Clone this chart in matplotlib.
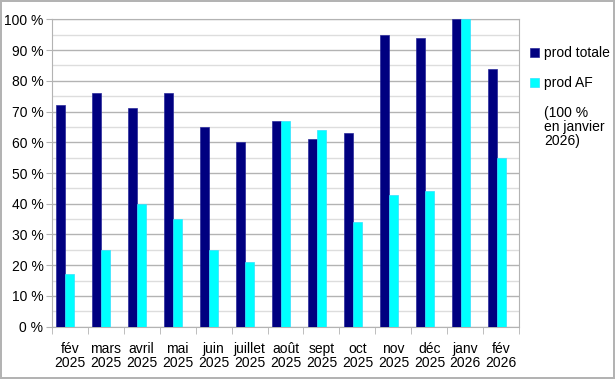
import numpy as np
import matplotlib
matplotlib.use("Agg")
import matplotlib.pyplot as plt
from matplotlib.ticker import MultipleLocator, FuncFormatter

plt.rcParams['font.family'] = ['Liberation Sans', 'DejaVu Sans']

months = ['fév\n2025', 'mars\n2025', 'avril\n2025', 'mai\n2025', 'juin\n2025',
          'juillet\n2025', 'août\n2025', 'sept\n2025', 'oct\n2025', 'nov\n2025',
          'déc\n2025', 'janv\n2026', 'fév\n2026']
prod_totale = [72, 76, 71, 76, 65, 60, 67, 61, 63, 95, 94, 100, 84]
prod_af = [17, 25, 40, 35, 25, 21, 67, 64, 34, 43, 44, 100, 55]
note = [0] * len(months)   # empty series, only used for the legend note

x = np.arange(len(months))
w = 0.245

fig = plt.figure(figsize=(6.15, 3.79), dpi=100, edgecolor='#b3b3b3', linewidth=1.5)
ax = fig.add_axes([0.0841, 0.138, 0.7603, 0.811])

b1 = ax.bar(x - w, np.array(prod_totale) / 100, w, color='#000080',
            edgecolor='#2a2a9a', linewidth=0.5, label='prod totale', zorder=3)
b2 = ax.bar(x, np.array(prod_af) / 100, w, color='#00ffff',
            edgecolor='#33e0ff', linewidth=0.5, label='prod AF', zorder=3)
b3 = ax.bar(x + w, note, w, color='none', linewidth=0,
            label='(100 %\nen janvier\n2026)', zorder=3)

ax.set_xlim(-0.5, len(months) - 0.5)
ax.set_ylim(0, 1)
ax.yaxis.set_major_locator(MultipleLocator(0.1))
ax.yaxis.set_minor_locator(MultipleLocator(0.05))
ax.yaxis.set_major_formatter(FuncFormatter(lambda v, p: '%d %%' % round(v * 100)))
ax.grid(True, which='major', axis='y', color='#b3b3b3', linewidth=1, zorder=0)
ax.grid(True, which='minor', axis='y', color='#dddddd', linewidth=1, zorder=0)

ax.set_xticks(x)
ax.set_xticklabels(months, fontsize=10, linespacing=1.0)
ax.set_xticks(np.arange(-0.5, len(months)), minor=True)
ax.tick_params(axis='x', which='major', length=0, pad=11)
ax.tick_params(axis='x', which='minor', length=5, color='#b3b3b3')
ax.tick_params(axis='y', which='major', length=4, color='#b3b3b3', labelsize=10, pad=2)
ax.tick_params(axis='y', which='minor', length=0)

for s in ax.spines.values():
    s.set_color('#b3b3b3')

leg = ax.legend(handles=[b1, b2, b3], loc='upper left', bbox_to_anchor=(1.01, 0.93),
                frameon=False, fontsize=10, handlelength=0.7, handleheight=0.7,
                handletextpad=0.35, labelspacing=1.15, borderaxespad=0)
for t in leg.get_texts():
    t.set_linespacing(1.0)

fig.savefig('out.png', dpi=100)
